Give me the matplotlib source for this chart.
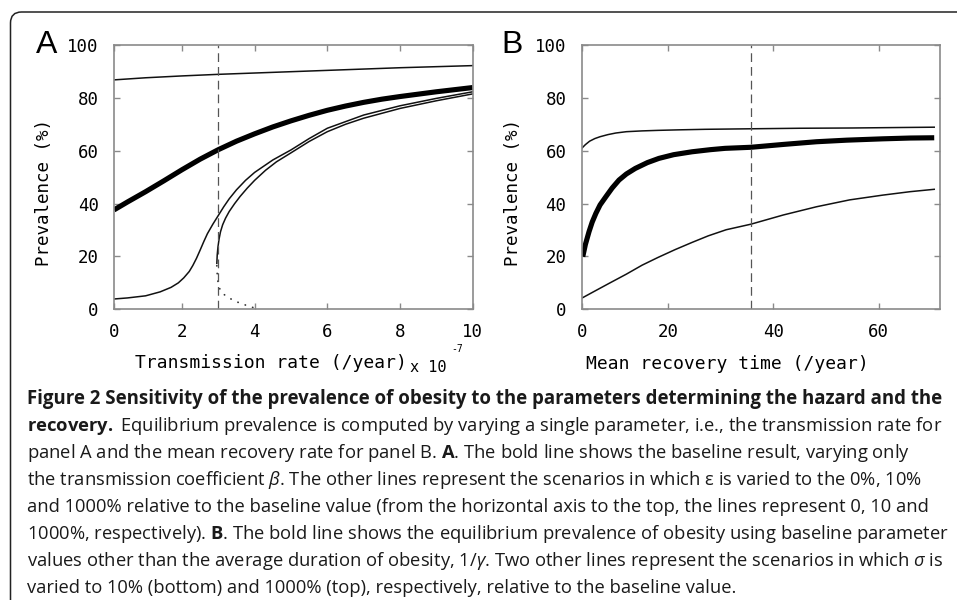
import matplotlib
matplotlib.use('Agg')
import matplotlib.pyplot as plt
from matplotlib import font_manager
from matplotlib.patches import FancyBboxPatch

# ---- panel A : prevalence vs transmission rate (x 1e-7 /year) ----
a_top_x = [0.13, 1, 2, 3, 4, 5, 6, 7, 8, 9, 10]
a_top_y = [86.8, 87.6, 88.3, 88.9, 89.4, 89.9, 90.4, 90.9, 91.4, 91.8, 92.2]

a_base_x = [0.13, 0.5, 1, 1.5, 2, 2.5, 3, 3.5, 4, 4.5, 5, 5.5, 6, 6.5, 7, 7.5, 8, 8.5, 9, 9.5, 10]
a_base_y = [37.6, 40.6, 44.5, 48.6, 52.8, 56.8, 60.4, 63.6, 66.4, 69.0, 71.3, 73.4, 75.3, 76.9,
            78.3, 79.5, 80.5, 81.4, 82.3, 83.1, 83.9]

a_ten_x = [0.13, 0.5, 1, 1.4, 1.7, 1.9, 2.05, 2.2, 2.3, 2.4, 2.5, 2.6, 2.7, 2.85, 3.0, 3.15,
           3.3, 3.5, 3.75, 4, 4.5, 5, 5.5, 6, 7, 8, 9, 10]
a_ten_y = [3.9, 4.3, 5.1, 6.6, 8.3, 10.0, 11.9, 14.3, 16.6, 19.3, 22.4, 25.6, 28.6, 32.2, 35.5,
           38.8, 41.8, 45.2, 48.8, 51.8, 56.5, 60.3, 64.6, 68.5, 73.5, 77.0, 79.8, 82.3]

a_zero_x = [2.96, 2.97, 2.99, 3.02, 3.06, 3.12, 3.2, 3.3, 3.45, 3.6, 3.8, 4.0, 4.3, 4.6, 5.0,
            5.5, 6.0, 6.5, 7, 8, 9, 10]
a_zero_y = [17.4, 20.5, 23.5, 26.5, 29.3, 32.0, 34.5, 37.0, 40.0, 42.7, 45.9, 48.8, 52.6, 55.8,
            59.2, 63.5, 67.2, 70.0, 72.3, 76.0, 78.9, 81.5]

# unstable branch (dotted)
a_unst_x = [2.96, 2.97, 2.99, 3.03, 3.1, 3.2, 3.35, 3.55, 3.75, 3.95, 4.15]
a_unst_y = [16.5, 13.5, 10.5, 8.0, 6.4, 5.1, 3.9, 2.6, 1.6, 0.7, 0.1]

a_xlim = (0.13, 10)
a_ticks = [0.13, 2, 4, 6, 8, 10]
a_ticklabels = ['0', '2', '4', '6', '8', '10']
a_baseline = 3.0

# ---- panel B : prevalence vs mean recovery time ----
b_top_x = [3.5, 4.2, 5, 6, 7, 8.5, 10, 12, 15, 18, 22, 27, 35.7, 45, 55, 65, 70.6]
b_top_y = [60.9, 62.3, 63.6, 64.6, 65.3, 66.1, 66.7, 67.2, 67.5, 67.7, 67.9, 68.1, 68.3, 68.5,
           68.6, 68.8, 68.9]

b_base_x = [3.7, 4.2, 4.9, 5.5, 6.2, 7, 8.1, 9.3, 10.6, 12, 13.7, 16, 18.2, 21, 24.5, 28, 30.8,
            35.7, 42, 48.2, 54, 60.8, 66, 70.6]
b_base_y = [19.9, 24.5, 29.4, 33.0, 36.3, 39.5, 42.6, 45.9, 48.9, 51.2, 53.3, 55.5, 57.1, 58.5,
            59.6, 60.4, 60.9, 61.3, 62.4, 63.4, 64.0, 64.5, 64.8, 64.9]

b_low_x = [3.5, 6, 8.7, 12, 15, 18, 21.3, 24.5, 27.6, 31, 35.7, 41.9, 48.2, 54.5, 60.8, 66, 70.6]
b_low_y = [4.2, 6.9, 9.8, 13.3, 16.7, 19.6, 22.6, 25.3, 27.8, 30.1, 32.2, 35.7, 38.8, 41.4,
           43.2, 44.5, 45.4]

b_xlim = (3.5, 71.7)
b_ticks = [3.5, 20, 40, 60]
b_ticklabels = ['0', '20', '40', '60']
b_baseline = 35.7

y_ticks = [0, 20, 40, 60, 80, 100]

caption = [
    "Figure 2 Sensitivity of the prevalence of obesity to the parameters determining the hazard and the",
    r"$\mathbf{recovery.}$ Equilibrium prevalence is computed by varying a single parameter, i.e., the transmission rate for",
    r"panel A and the mean recovery rate for panel B. $\mathbf{A}$. The bold line shows the baseline result, varying only",
    r"the transmission coefficient $\beta$. The other lines represent the scenarios in which ε is varied to the 0%, 10%",
    "and 1000% relative to the baseline value (from the horizontal axis to the top, the lines represent 0, 10 and",
    r"1000%, respectively). $\mathbf{B}$. The bold line shows the equilibrium prevalence of obesity using baseline parameter",
    r"values other than the average duration of obesity, 1/$\gamma$. Two other lines represent the scenarios in which $\sigma$ is",
    "varied to 10% (bottom) and 1000% (top), respectively, relative to the baseline value.",
]

names = set(f.name for f in font_manager.fontManager.ttflist)
cap_font = 'Open Sans' if 'Open Sans' in names else 'DejaVu Sans'
mono = 'DejaVu Sans Mono'
plt.rcParams['mathtext.fontset'] = 'custom'
plt.rcParams['mathtext.rm'] = cap_font
plt.rcParams['mathtext.bf'] = cap_font + ':bold'
plt.rcParams['mathtext.it'] = cap_font + ':italic'

W, H = 957, 600
fig = plt.figure(figsize=(W / 100, H / 100), dpi=100)


def fx(x):
    return x / W


def fy(y):
    return 1 - y / H


# rounded frame
frame = FancyBboxPatch((10.5, -40), 1000, 600 - 12 + 40, boxstyle='round,pad=0,rounding_size=11',
                       transform=None, fill=False, edgecolor='#222222', linewidth=1.1)
fig.patches.append(frame)

spine_col = '#8a8a8a'
top, bot = 45, 309.3
axA = fig.add_axes([fx(114), fy(bot), fx(472.7 - 114), (bot - top) / H])
axB = fig.add_axes([fx(581.7), fy(bot), fx(940 - 581.7), (bot - top) / H])

thin = 1.1
bold = 3.7
dash_col = '#555555'

axA.plot(a_top_x, a_top_y, color='#111111', lw=thin)
axA.plot(a_base_x, a_base_y, color='#000000', lw=bold, solid_capstyle='butt')
axA.plot(a_ten_x, a_ten_y, color='#111111', lw=thin)
axA.plot(a_zero_x, a_zero_y, color='#111111', lw=thin)
axA.plot(a_unst_x, a_unst_y, color='#333333', lw=1.3, linestyle=(0, (0.1, 4.2)),
         dash_capstyle='round')
axA.axvline(a_baseline, color=dash_col, lw=0.9, linestyle=(0, (7, 4)))

axB.plot(b_top_x, b_top_y, color='#111111', lw=thin)
axB.plot(b_base_x, b_base_y, color='#000000', lw=bold, solid_capstyle='butt')
axB.plot(b_low_x, b_low_y, color='#111111', lw=thin)
axB.axvline(b_baseline, color=dash_col, lw=0.9, linestyle=(0, (7, 4)))

for ax, xl, xt, xtl in [(axA, a_xlim, a_ticks, a_ticklabels), (axB, b_xlim, b_ticks, b_ticklabels)]:
    ax.set_xlim(*xl)
    ax.set_ylim(0, 100)
    ax.set_xticks(xt)
    ax.set_xticklabels(xtl)
    ax.set_yticks(y_ticks)
    for s in ax.spines.values():
        s.set_color(spine_col)
        s.set_linewidth(1.2)
    ax.tick_params(direction='in', length=4, width=1, color=spine_col, top=True, right=True,
                   labelsize=12.5, labelcolor='#000000')
    ax.tick_params(axis='y', pad=11)
    ax.tick_params(axis='x', pad=10)
    for lab in ax.get_xticklabels() + ax.get_yticklabels():
        lab.set_family(mono)

# axis labels
fig.text(fx(44), fy(192), 'Prevalence (%)', rotation=90, ha='center', va='center',
         family=mono, fontsize=12.6, color='#000000')
fig.text(fx(513), fy(192), 'Prevalence (%)', rotation=90, ha='center', va='center',
         family=mono, fontsize=12.6, color='#000000')
fig.text(fx(135), fy(368), 'Transmission rate (/year)', ha='left', va='baseline',
         family=mono, fontsize=13, color='#000000')
fig.text(fx(410), fy(372), 'x 10', ha='left', va='baseline', family=mono, fontsize=11,
         color='#000000')
fig.text(fx(451), fy(352), '-7', ha='left', va='baseline', family=mono, fontsize=7,
         color='#000000')
fig.text(fx(586), fy(369), 'Mean recovery time (/year)', ha='left', va='baseline',
         family=mono, fontsize=13, color='#000000')

# panel letters
fig.text(fx(36), fy(53), 'A', ha='left', va='baseline', family='Liberation Sans', fontsize=23)
fig.text(fx(501), fy(53), 'B', ha='left', va='baseline', family='Liberation Sans', fontsize=23)

# caption: bold first line fitted to its width, regular lines fitted to line 6
renderer = fig.canvas.get_renderer()
x0 = 27
texts = []
for i, line in enumerate(caption):
    t = fig.text(fx(x0), fy(404.3 + 26.9 * i), line, ha='left', va='baseline', family=cap_font,
                 fontsize=12, color='#1a1a1a', fontweight='bold' if i == 0 else 'normal')
    texts.append(t)
w0 = texts[0].get_window_extent(renderer).width
texts[0].set_fontsize(12 * (941 - x0) / w0)
w5 = texts[5].get_window_extent(renderer).width
reg = 12 * (949 - x0) / w5
for t in texts[1:]:
    t.set_fontsize(reg)

fig.savefig('out.png', dpi=100)
